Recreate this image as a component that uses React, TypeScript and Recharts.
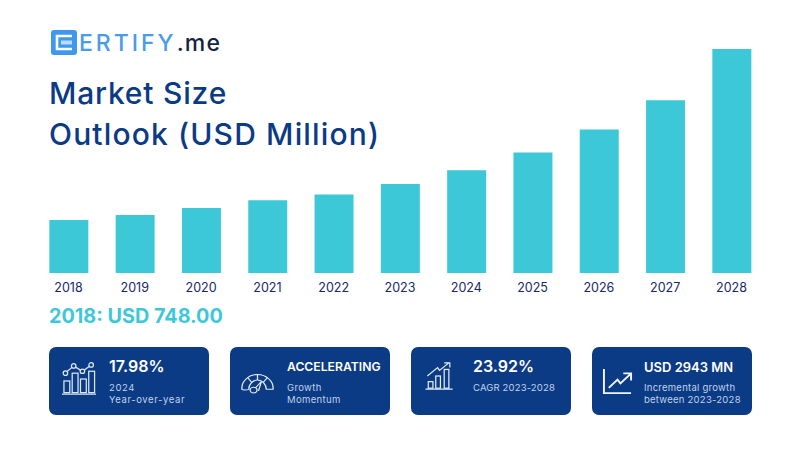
import type { CSSProperties, ReactNode } from "react";
import { BarChart, Bar, XAxis, YAxis } from "recharts";

const years = ["2018", "2019", "2020", "2021", "2022", "2023", "2024", "2025", "2026", "2027", "2028"];
const marketSize = [748, 855, 1007, 1181, 1305, 1532, 1830, 2219, 2719, 3357, 4475];
const AXIS_FLOOR = -407;
const AXIS_TOP = 4475;

const data = years.map((year, i) => ({ year, size: marketSize[i] }));

const NAVY = "#0b3b85";
const TEAL = "#3dc8d8";
const FONT = "Inter, 'Noto Sans', sans-serif";

const abs = (left: number, top: number, extra: CSSProperties = {}): CSSProperties => ({
  position: "absolute",
  left,
  top,
  whiteSpace: "nowrap",
  ...extra,
});

function ChartsIcon() {
  return (
    <svg width="35" height="36" viewBox="0 0 36 36" fill="none" stroke="#dbe6f5" strokeWidth="1.3">
      <rect x="2" y="19" width="6" height="12" />
      <rect x="10.5" y="11" width="6" height="20" />
      <rect x="19" y="17" width="6" height="14" />
      <rect x="27.5" y="9" width="6" height="22" />
      <path d="M0 32.5H35" />
      <circle cx="3.5" cy="11" r="2.3" />
      <circle cx="12" cy="3.5" r="2.3" />
      <circle cx="21" cy="9" r="2.3" />
      <circle cx="30" cy="2.5" r="2.3" />
      <path d="M5.2 9.3L10.2 5M14 4.8L19 7.8M23 7.6L28.2 3.8" />
    </svg>
  );
}

function GaugeIcon() {
  return (
    <svg width="35" height="21" viewBox="0 0 36 27" preserveAspectRatio="none" fill="none" stroke="#e6edf8" strokeWidth="1.3">
      <path d="M2 21C1 11 9 2 18 2C27 2 35 11 34 21H27C27 15 23 9 18 9C13 9 9 15 9 21C7 22 3 22 2 21Z" />
      <path d="M18 2V9M8 6L12 12M28 6L24 12" />
      <circle cx="14" cy="22" r="3.6" />
      <path d="M16 19L22 11L19 23" />
    </svg>
  );
}

function CagrIcon() {
  return (
    <svg width="29" height="30" viewBox="0 0 30 32" fill="none" stroke="#e6edf8" strokeWidth="1.3">
      <rect x="3" y="22" width="5" height="7" />
      <rect x="11" y="16" width="5" height="13" />
      <rect x="20" y="9" width="5" height="20" />
      <path d="M0 30H29" />
      <path d="M2 16L13 7L15 10L25 2M20 2H26V7" />
    </svg>
  );
}

function GrowthIcon() {
  return (
    <svg width="31" height="27" viewBox="0 0 32 30" preserveAspectRatio="none" fill="none" stroke="#f2f6fc" strokeWidth="2">
      <path d="M2 1V28H30" />
      <path d="M7 22L16 13L19 17L29 7M22 6H30V14" />
    </svg>
  );
}

const cardLefts = [49, 230, 411, 592];
const cardHeads = ["17.98%", "ACCELERATING", "23.92%", "USD 2943 MN"];
const cardLines = [
  ["2024", "Year-over-year"],
  ["Growth", "Momentum"],
  ["CAGR 2023-2028"],
  ["Incremental growth", "between 2023-2028"],
];
const cardIcons: ReactNode[] = [<ChartsIcon />, <GaugeIcon />, <CagrIcon />, <GrowthIcon />];
const iconOffsets = [
  [13, 15],
  [10, 26],
  [14, 14],
  [10, 21],
];
const textOffsets = [60, 57, 62, 52];
const headSizes = [16, 12.2, 16, 13];
const headTops = [9, 10, 9, 10];
const lineSpacing = [0.6, 0.35, 0.15, 0.25];

function Card({ i }: { i: number }) {
  const lines = cardLines[i];
  return (
    <div style={abs(cardLefts[i], 347, { width: 160, height: 68, background: NAVY, borderRadius: 7 })}>
      <div style={abs(iconOffsets[i][0], iconOffsets[i][1], { lineHeight: 0 })}>{cardIcons[i]}</div>
      <div
        style={abs(textOffsets[i], headTops[i], {
          color: "#fff",
          fontWeight: 600,
          fontSize: headSizes[i],
          lineHeight: "20px",
        })}
      >
        {cardHeads[i]}
      </div>
      {lines.map((line, j) => (
        <div
          key={line}
          style={abs(textOffsets[i], 35 + j * 12, {
            color: "#c0d2ec",
            fontSize: 9.5,
            lineHeight: "12px",
            letterSpacing: lineSpacing[i],
          })}
        >
          {line}
        </div>
      ))}
    </div>
  );
}

export default function App() {
  return (
    <div style={{ position: "fixed", left: 0, top: 0, width: 800, height: 450, background: "#fff", fontFamily: FONT, overflow: "hidden" }}>
      <div style={abs(0, 0)}>
        <BarChart
          width={800}
          height={450}
          data={data}
          margin={{ top: 49, right: 35.35, bottom: 147, left: 35.35 }}
          barCategoryGap="20%"
          barSize={39}
        >
          <YAxis hide domain={[AXIS_FLOOR, AXIS_TOP]} allowDataOverflow />
          <XAxis
            dataKey="year"
            axisLine={false}
            tickLine={false}
            height={30}
            tick={{ fontSize: 12.5, fill: "#16296a", fontFamily: FONT }}
            tickMargin={4}
            interval={0}
          />
          <Bar
            dataKey={(d: { size: number }) => [AXIS_FLOOR, d.size]}
            fill={TEAL}
            isAnimationActive={false}
          />
        </BarChart>
      </div>

      {/* logo */}
      <svg style={abs(51, 30)} width="26" height="25" viewBox="0 0 26 25">
        <rect x="0" y="0" width="26" height="25" rx="3" fill="#3f98ee" />
        <path d="M21 6H6V19H21" fill="none" stroke="#fff" strokeWidth="2.6" />
        <rect x="10" y="10.5" width="11" height="4" fill="#bcdcf8" />
      </svg>
      <div style={abs(79, 30, { fontSize: 23, lineHeight: "26px", fontWeight: 500, letterSpacing: 3, color: "#4a9bea" })}>
        ERTIFY<span style={{ color: "#14263f", letterSpacing: 1.2 }}>.me</span>
      </div>

      {/* title */}
      <div style={abs(49, 75, { fontSize: 30, lineHeight: "36px", fontWeight: 500, letterSpacing: 0.8, color: NAVY })}>Market Size</div>
      <div style={abs(49, 116, { fontSize: 30, lineHeight: "36px", fontWeight: 500, letterSpacing: 1.15, color: NAVY })}>Outlook (USD Million)</div>

      <div style={abs(49, 303, { fontSize: 19.8, lineHeight: "26px", fontWeight: 700, color: TEAL })}>2018: USD 748.00</div>

      {cardLefts.map((_, i) => (
        <Card key={i} i={i} />
      ))}
    </div>
  );
}
